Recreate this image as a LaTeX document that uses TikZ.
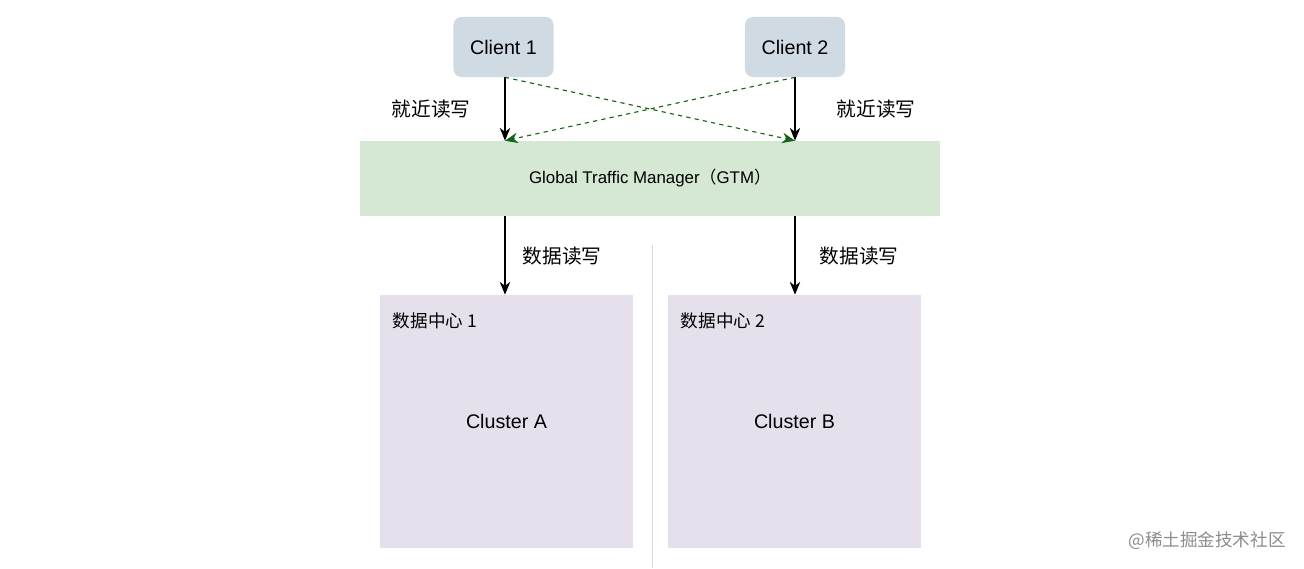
\documentclass[tikz,border=0pt]{standalone}
\usepackage{fontspec}
\setmainfont{Liberation Sans}
\newfontfamily\cjk{Noto Sans CJK SC}
\usetikzlibrary{arrows.meta}
\tikzset{>={Stealth[length=3.2mm,width=2.6mm,inset=1mm]}}
\definecolor{clientgray}{RGB}{208,218,227}
\definecolor{gtmgreen}{RGB}{213,232,212}
\definecolor{dcpurple}{RGB}{229,224,236}
\definecolor{dashgreen}{RGB}{20,100,20}

\begin{document}
\begin{tikzpicture}[x=0.025cm,y=-0.025cm]
      \tikzstyle{client}=[fill=clientgray,rounded corners=0.2cm,minimum width=2.5cm,minimum height=1.5cm,inner sep=0,font=\fontsize{14}{16}\selectfont];
      \tikzstyle{dcbox}=[fill=dcpurple,minimum width=6.325cm,minimum height=6.325cm,inner sep=0,font=\fontsize{14}{16}\selectfont];
      \tikzstyle{lbl}=[font=\cjk\fontsize{14}{16}\selectfont];
      \useasboundingbox (0,0) rectangle (1304,568);
      \node[client] (c1) at (503.5,47) {Client 1};
      \node[client] (c2) at (795,47) {Client 2};
      \node[fill=gtmgreen,minimum width=14.5cm,minimum height=1.875cm,inner sep=0,font=\fontsize{12}{14}\selectfont] (gtm) at (650,178.5) {Global Traffic Manager{\cjk（}GTM{\cjk）}};
      \draw[black!15] (652,245)--(652,568);
      \node[dcbox] (dc1) at (506.5,421.5) {Cluster A};
      \node[dcbox] (dc2) at (794.5,421.5) {Cluster B};
      \node[anchor=west,font=\cjk\fontsize{12.5}{14}\selectfont] (dcl1) at (388,321) {数据中心 1};
      \node[anchor=west,font=\cjk\fontsize{12.5}{14}\selectfont] (dcl2) at (676,321) {数据中心 2};
      
      \draw[thick,->] (c1.south -| 505,0)--(505,0 |- gtm.north);
      \draw[thick,->] (c2.south)--(c2.south |- gtm.north);
      \draw[thick,dashed,dashgreen,->] (c1.south -| 505,0)--(c2.south |- gtm.north);
      \draw[thick,dashed,dashgreen,->] (c2.south)--(505,0 |- gtm.north);
      \node[lbl] (near1) at (431,109) {就近读写};
      \node[lbl] (near2) at (876,109) {就近读写};
      
      \draw[thick,->] (505,0 |- gtm.south)--(505,0 |- dc1.north);
      \draw[thick,->] (c2.south |- gtm.south)--(c2.south |- dc2.north);
      \node[lbl] (rw1) at (562,256) {数据读写};
      \node[lbl] (rw2) at (859,256) {数据读写};
      
      \node[font=\cjk\fontsize{12.5}{14}\selectfont,text=black!45] (mark) at (1207,541) {@稀土掘金技术社区};
    \end{tikzpicture}
\end{document}
